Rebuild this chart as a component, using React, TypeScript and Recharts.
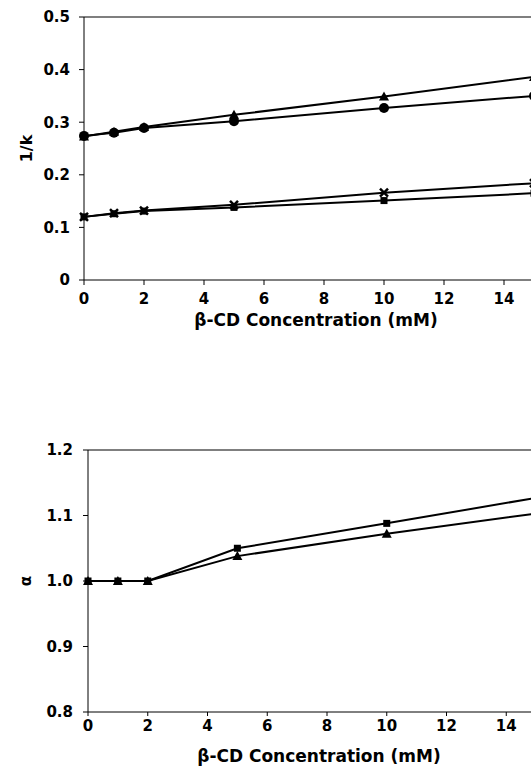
import React from 'react';
import { LineChart, Line, XAxis, YAxis, ReferenceLine } from 'recharts';

// β-CD concentration (mM)
const conc = [0, 1, 2, 5, 10, 15];

// top panel: 1/k
const invKTriangle = [0.273, 0.282, 0.291, 0.314, 0.349, 0.386];
const invKCircle = [0.274, 0.280, 0.289, 0.302, 0.327, 0.350];
const invKCross = [0.120, 0.127, 0.132, 0.143, 0.166, 0.184];
const invKSquare = [0.120, 0.126, 0.131, 0.138, 0.151, 0.165];

// bottom panel: alpha
const alphaSquare = [1.0, 1.0, 1.0, 1.05, 1.088, 1.127];
const alphaTriangle = [1.0, 1.0, 1.0, 1.038, 1.072, 1.103];

const xTicks = [0, 2, 4, 6, 8, 10, 12, 14];
const invKTicks = [0, 0.1, 0.2, 0.3, 0.4, 0.5];
const alphaTicks = [0.8, 0.9, 1.0, 1.1, 1.2];

const topData = conc.map((x, i) => ({
  x,
  tri: invKTriangle[i],
  circ: invKCircle[i],
  cross: invKCross[i],
  sq: invKSquare[i],
}));

const bottomData = conc.map((x, i) => ({
  x,
  sq: alphaSquare[i],
  tri: alphaTriangle[i],
}));

const FONT = '"DejaVu Sans", "Liberation Sans", Arial, sans-serif';
const tickStyle = { fontSize: 15, fontWeight: 700, fill: '#000', fontFamily: FONT };

const TriangleDot = (p: any) => {
  const { cx, cy } = p;
  if (cx == null || cy == null) return <g />;
  return <polygon points={`${cx},${cy - 5} ${cx - 5},${cy + 4} ${cx + 5},${cy + 4}`} fill="#000" />;
};

const CircleDot = (p: any) => {
  const { cx, cy } = p;
  if (cx == null || cy == null) return <g />;
  return <circle cx={cx} cy={cy} r={5} fill="#000" />;
};

const SquareDot = (p: any) => {
  const { cx, cy } = p;
  if (cx == null || cy == null) return <g />;
  return <rect x={cx - 3.5} y={cy - 3.5} width={7} height={7} fill="#000" />;
};

const CrossDot = (p: any) => {
  const { cx, cy } = p;
  if (cx == null || cy == null) return <g />;
  return (
    <g stroke="#000" strokeWidth={2.5}>
      <line x1={cx - 4} y1={cy - 4} x2={cx + 4} y2={cy + 4} />
      <line x1={cx - 4} y1={cy + 4} x2={cx + 4} y2={cy - 4} />
    </g>
  );
};

const yTitle = (text: string, size: number, dx: number) => (props: any) => {
  const vb = props.viewBox || { x: 0, y: 0, width: 0, height: 0 };
  const x = vb.x + dx;
  const y = vb.y + vb.height / 2;
  return (
    <text
      x={x}
      y={y}
      transform={`rotate(-90 ${x} ${y})`}
      textAnchor="middle"
      dominantBaseline="central"
      style={{ fontSize: size, fontWeight: 700, fontFamily: FONT, fill: '#000' }}
    >
      {text}
    </text>
  );
};

const xTitle = 'β-CD Concentration (mM)';

export default function App() {
  return (
    <div
      style={{
        position: 'absolute',
        left: 0,
        top: 0,
        width: 531,
        height: 767,
        overflow: 'hidden',
        background: '#fff',
      }}
    >
      <LineChart width={600} height={340} data={topData} margin={{ top: 17, right: 36, left: 0, bottom: 0 }}>
        <XAxis
          type="number"
          dataKey="x"
          domain={[0, 16]}
          ticks={xTicks}
          height={60}
          tick={tickStyle}
          tickSize={5}
          tickMargin={8}
          stroke="#000"
          label={{
            value: xTitle,
            position: 'insideBottom',
            offset: 14,
            dx: -8,
            style: { fontSize: 17, fontWeight: 700, fontFamily: FONT, fill: '#000' },
          }}
        />
        <YAxis
          type="number"
          domain={[0, 0.5]}
          ticks={invKTicks}
          width={84}
          tick={tickStyle}
          tickSize={5}
          tickMargin={9}
          stroke="#000"
          label={{ content: yTitle('1/k', 16, 26) }}
        />
        <ReferenceLine y={0.5} stroke="#000" strokeWidth={1.2} />
        <Line dataKey="tri" stroke="#000" strokeWidth={2} dot={TriangleDot} isAnimationActive={false} />
        <Line dataKey="circ" stroke="#000" strokeWidth={2} dot={CircleDot} isAnimationActive={false} />
        <Line dataKey="cross" stroke="#000" strokeWidth={2} dot={CrossDot} isAnimationActive={false} />
        <Line dataKey="sq" stroke="#000" strokeWidth={2} dot={SquareDot} isAnimationActive={false} />
      </LineChart>
      <LineChart width={600} height={427} data={bottomData} margin={{ top: 110, right: 34, left: 0, bottom: 0 }}>
        <XAxis
          type="number"
          dataKey="x"
          domain={[0, 16]}
          ticks={xTicks}
          height={55}
          tick={tickStyle}
          tickSize={4}
          tickMargin={4}
          stroke="#000"
          label={{
            value: xTitle,
            position: 'insideBottom',
            offset: 5,
            dx: -8,
            style: { fontSize: 17, fontWeight: 700, fontFamily: FONT, fill: '#000' },
          }}
        />
        <YAxis
          type="number"
          domain={[0.8, 1.2]}
          ticks={alphaTicks}
          width={88}
          tick={tickStyle}
          tickFormatter={(v: number) => v.toFixed(1)}
          tickSize={5}
          tickMargin={10}
          stroke="#000"
          label={{ content: yTitle('α', 15, 26) }}
        />
        <ReferenceLine y={1.2} stroke="#000" strokeWidth={1.2} />
        <Line dataKey="sq" stroke="#000" strokeWidth={2} dot={SquareDot} isAnimationActive={false} />
        <Line dataKey="tri" stroke="#000" strokeWidth={2} dot={TriangleDot} isAnimationActive={false} />
      </LineChart>
    </div>
  );
}
